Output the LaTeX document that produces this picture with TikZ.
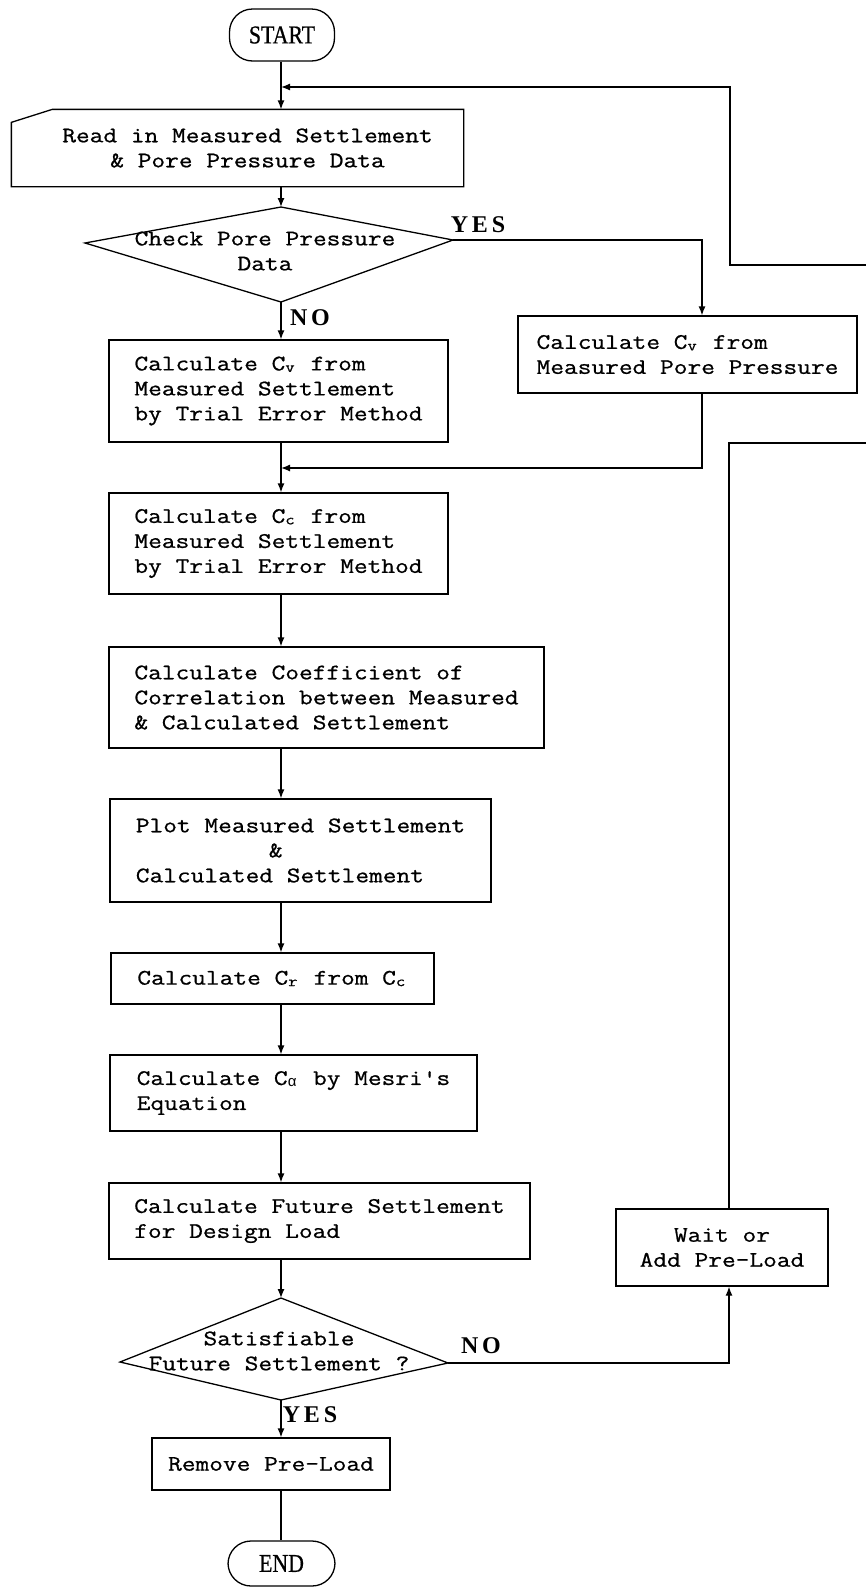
\documentclass[tikz,border=0pt]{standalone}
\usepackage{fontspec}
\newfontfamily\monof{Latin Modern Mono}[FakeStretch=1.2,FakeBold=0.8]
\newfontfamily\greekf{Liberation Mono}
\newfontfamily\termfont{Liberation Serif}[FakeStretch=0.85,FakeBold=0.6]
\newfontfamily\ynfont{Liberation Serif}[LetterSpace=16]
\usetikzlibrary{arrows.meta}
\newcommand{\subc}[1]{\makebox[0.525em][l]{\raisebox{-1.5pt}{\fontsize{15}{15}\selectfont #1}}}
\tikzset{
  ln/.style={line width=1.3pt},
  arr/.style={ln,-{Latex[length=9pt,width=7pt]}},
  proc/.style={draw,ln,align=left,inner sep=0pt,font=\monof\fontsize{22.2}{25}\selectfont},
  dtext/.style={align=center,inner sep=0pt,font=\monof\fontsize{22.2}{25}\selectfont},
  term/.style={draw,ln,rounded corners=23pt,inner sep=0pt,font=\termfont\fontsize{25.7}{26}\selectfont},
  yn/.style={inner sep=0pt,font=\ynfont\bfseries\fontsize{24}{24}\selectfont}
}
\begin{document}
\begin{tikzpicture}[x=1pt,y=-1pt]
\useasboundingbox (0,0) rectangle (866,1588);
\coordinate (col) at (281,0);
% start
\node[term,minimum width=105pt,minimum height=52pt] (start) at (282,35) {START};
% read (manual input)
\node[proc,draw=none,align=center,minimum width=451pt,minimum height=76pt] (read) at (237.5,148)
  {\hspace*{20pt}Read in Measured Settlement\\\hspace*{20pt}\& Pore Pressure Data};
\draw[ln] (read.south west) -- (read.south east) -- (read.north east)
  -- ([xshift=41pt]read.north west) -- ([yshift=-13pt]read.north west) -- cycle;
% check diamond
\coordinate (chkN) at (281,207);
\coordinate (chkE) at (453,240);
\coordinate (chkS) at (281,302);
\coordinate (chkW) at (85,243);
\draw[ln] (chkN) -- (chkE) -- (chkS) -- (chkW) -- cycle;
\node[dtext] (chk) at (265,251) {Check Pore Pressure\\Data};
\node[yn] (yes1) at (478,225) {YES};
\node[yn] (no1) at (310,318) {NO};
% boxes
\node[proc,minimum width=339pt,minimum height=77pt] (cvp) at (687.5,354.5)
  {Calculate C\subc{v} from\\Measured Pore Pressure};
\node[proc,minimum width=339pt,minimum height=102pt] (cvs) at (278.5,391)
  {Calculate C\subc{v} from\\Measured Settlement\\by Trial Error Method};
\node[proc,minimum width=339pt,minimum height=101pt] (cc) at (278.5,543.5)
  {Calculate C\subc{c} from\\Measured Settlement\\by Trial Error Method};
\node[proc,minimum width=435pt,minimum height=101pt] (coef) at (326.5,697.5)
  {Calculate Coefficient of\\Correlation between Measured\\\& Calculated Settlement};
\node[proc,minimum width=381pt,minimum height=103pt] (plot) at (300.5,850.5)
  {Plot Measured Settlement\\\hspace*{133pt}\&\\Calculated Settlement};
\node[proc,minimum width=323pt,minimum height=51pt] (cr) at (272.5,978.5)
  {Calculate C\subc{r} from C\subc{c}};
\node[proc,minimum width=367pt,minimum height=76pt] (mesri) at (293.5,1093)
  {Calculate C\subc{\greekf α} by Mesri's\\Equation};
\node[proc,minimum width=421pt,minimum height=76pt] (fut) at (319.5,1221)
  {Calculate Future Settlement\\for Design Load};
% satisfiable diamond
\coordinate (satN) at (281,1298);
\coordinate (satE) at (448,1363);
\coordinate (satS) at (281,1400);
\coordinate (satW) at (120,1362);
\draw[ln] (satN) -- (satE) -- (satS) -- (satW) -- cycle;
\node[dtext] (sat) at (279,1351) {Satisfiable\\Future Settlement ?};
\node[yn] (no2) at (481,1346) {NO};
\node[yn] (yes2) at (310,1415) {YES};
\node[proc,align=center,minimum width=212pt,minimum height=77pt] (wait) at (722,1247.5)
  {Wait or\\Add Pre-Load};
\node[proc,minimum width=238pt,minimum height=52pt] (rem) at (271,1464) {Remove Pre-Load};
\node[term,minimum width=107pt,minimum height=45pt] (endn) at (281.5,1563.5) {END};
% connectors
\coordinate (joinA) at (281,87);
\coordinate (edgeA) at (866,265);
\coordinate (joinB) at (281,468);
\coordinate (edgeB) at (866,443);
\draw[arr] (start.south -| col) -- (col |- read.north);
\draw[arr] (edgeA) -- (730,265) |- (joinA);
\draw[arr] (col |- read.south) -- (chkN);
\draw[arr] (chkE) -| ([xshift=14.5pt]cvp.north);
\draw[arr] (chkS) -- (col |- cvs.north);
\draw[arr] ([xshift=14.5pt]cvp.south) |- (joinB);
\draw[arr] (col |- cvs.south) -- (col |- cc.north);
\draw[arr] (col |- cc.south) -- (col |- coef.north);
\draw[arr] (col |- coef.south) -- (col |- plot.north);
\draw[arr] (col |- plot.south) -- (col |- cr.north);
\draw[arr] (col |- cr.south) -- (col |- mesri.north);
\draw[arr] (col |- mesri.south) -- (col |- fut.north);
\draw[arr] (col |- fut.south) -- (satN);
\draw[arr] (satE) -| ([xshift=7pt]wait.south);
\draw[ln] ([xshift=7pt]wait.north) |- (edgeB);
\draw[arr] (satS) -- (col |- rem.north);
\draw[ln] (col |- rem.south) -- (col |- endn.north);
\end{tikzpicture}
\end{document}
